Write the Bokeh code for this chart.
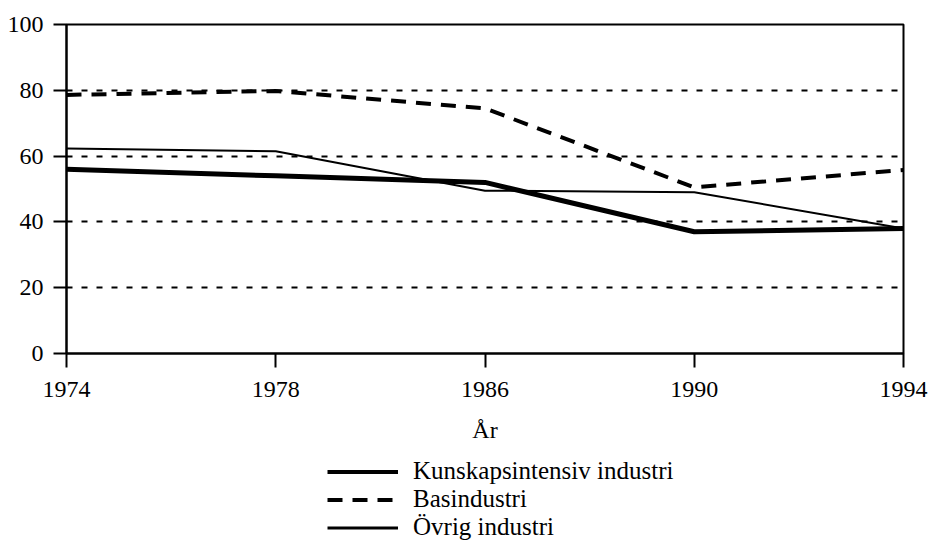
from bokeh.plotting import figure
from bokeh.layouts import column
from bokeh.models import Range1d, FixedTicker, Legend, LegendItem
from bokeh.embed import file_html
from bokeh.resources import INLINE

years = ["1974", "1978", "1986", "1990", "1994"]
kunskap = [56, 54, 52, 37, 38]
bas = [78.6, 79.8, 74.5, 50.5, 55.8]
ovrig = [62.3, 61.5, 49.5, 49, 38]
y_ticks = [0, 20, 40, 60, 80, 100]
labels = ["Kunskapsintensiv industri", "Basindustri", "Övrig industri"]

xs = list(range(len(years)))
FONT = "Liberation Serif"
styles = [dict(line_color="black", line_width=5),
          dict(line_color="black", line_width=4, line_dash="15 10"),
          dict(line_color="black", line_width=2)]
series = [kunskap, bas, ovrig]

p = figure(frame_width=837, frame_height=329, output_backend="svg", toolbar_location=None,
           x_range=Range1d(0, len(years) - 1), y_range=Range1d(0, 100),
           min_border_left=66, min_border_top=24, min_border_right=28, min_border_bottom=102)

p.xaxis.ticker = FixedTicker(ticks=xs)
p.xaxis.major_label_overrides = {i: y for i, y in enumerate(years)}
p.yaxis.ticker = FixedTicker(ticks=y_ticks)

for ax in (p.xaxis[0], p.yaxis[0]):
    ax.axis_line_color = "black"
    ax.axis_line_width = 2
    ax.major_tick_line_color = "black"
    ax.major_tick_line_width = 2
    ax.major_tick_in = 0
    ax.minor_tick_line_color = None
    ax.major_label_text_font = FONT
    ax.major_label_text_font_size = "24px"
    ax.major_label_text_color = "black"

p.yaxis.major_tick_out = 13
p.xaxis.major_tick_out = 14
p.yaxis.major_label_standoff = 10
p.xaxis.major_label_standoff = 14
p.xaxis.axis_label = "År"
p.xaxis.axis_label_text_font = FONT
p.xaxis.axis_label_text_font_size = "24px"
p.xaxis.axis_label_text_font_style = "normal"
p.xaxis.axis_label_text_color = "black"
p.xaxis.axis_label_standoff = 17

p.xgrid.grid_line_color = None
p.ygrid.ticker = FixedTicker(ticks=[20, 40, 60, 80])
p.ygrid.grid_line_color = "black"
p.ygrid.grid_line_width = 2
p.ygrid.grid_line_dash = "6 9"

p.outline_line_color = "black"
p.outline_line_width = 2
p.background_fill_color = "white"
p.border_fill_color = "white"

for ys, st in zip(series, styles):
    p.line(xs, ys, **st)

# legend strip below the chart
p2 = figure(width=931, height=87, output_backend="svg", toolbar_location=None,
            x_range=Range1d(0, len(years) - 1), y_range=Range1d(0, 100),
            x_axis_location=None, y_axis_location=None,
            min_border_left=0, min_border_right=0, min_border_top=0, min_border_bottom=0)
p2.outline_line_color = None
p2.grid.grid_line_color = None
p2.background_fill_color = "white"
p2.border_fill_color = "white"

legend_styles = [dict(line_color="black", line_width=4),
                 dict(line_color="black", line_width=4, line_dash="15 10"),
                 dict(line_color="black", line_width=3)]
items = []
for lab, ys, st in zip(labels, series, legend_styles):
    r = p2.line(xs, ys, visible=False, **st)
    items.append(LegendItem(label=lab, renderers=[r]))

legend = Legend(items=items, location=(261, 1), orientation="vertical")
legend.label_text_font = FONT
legend.label_text_font_size = "25px"
legend.label_text_color = "black"
legend.glyph_width = 71
legend.glyph_height = 27
legend.label_height = 27
legend.spacing = 0
legend.padding = 0
legend.margin = 0
legend.label_standoff = 15
legend.border_line_color = None
legend.background_fill_alpha = 0
p2.add_layout(legend, "center")

layout = column(p, p2, spacing=0)
open("out.html", "w").write(file_html(layout, INLINE))
